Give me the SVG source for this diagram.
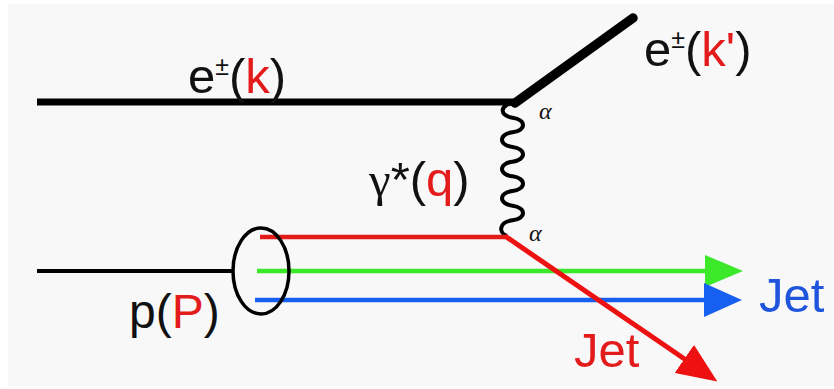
<svg xmlns="http://www.w3.org/2000/svg" width="834" height="389" viewBox="0 0 834 389">
<style>
.lbl{font-family:"Liberation Sans",Arial,sans-serif;font-size:49px;fill:#111}
.red{fill:#e31b1b}
.greek{font-family:"Liberation Serif","Times New Roman",serif}
.alpha{font-family:"Liberation Serif","Times New Roman",serif;font-size:24px;font-style:italic;fill:#111}
.sup{font-size:25px}
</style>
<defs>
<marker id="ahG" markerUnits="userSpaceOnUse" viewBox="0 0 38 32" markerWidth="38" markerHeight="32" refX="2" refY="16" orient="auto"><path d="M0,0 L38,16 L0,32 z" fill="#3be82a"/></marker>
<marker id="ahB" markerUnits="userSpaceOnUse" viewBox="0 0 38 34" markerWidth="38" markerHeight="34" refX="2" refY="17" orient="auto"><path d="M0,0 L38,17 L0,34 z" fill="#1760ef"/></marker>
<marker id="ahR" markerUnits="userSpaceOnUse" viewBox="0 0 40 34" markerWidth="40" markerHeight="34" refX="2" refY="17" orient="auto"><path d="M0,0 L40,17 L0,34 z" fill="#ee1111"/></marker>
</defs>
<rect x="8" y="4" width="826" height="382" fill="#f8f8f8"/>
<g id="connectors" fill="none">
<line id="e-in" x1="37" y1="102" x2="517" y2="102" stroke="#000" stroke-width="7"/>
<line id="e-out" x1="515" y1="103" x2="633" y2="18" stroke="#000" stroke-width="9.5" stroke-linecap="round"/>
<path id="photon" d="M515,103 C499,104 499,116 512.5,117.7 C526.5,119.4 526.5,130.7 512.5,132.3 C498.5,134 498.5,145.3 512.5,147 C526.5,148.7 526.5,160 512.5,161.7 C498.5,163.4 498.5,174.7 512.5,176.3 C526.5,178 526.5,189.3 512.5,191 C498.5,192.7 498.5,204 512.5,205.7 C526.5,207.4 526.5,218.7 512.5,220.3 C498.5,222 498.5,233 507,236" stroke="#000" stroke-width="4"/>
<line id="p-in" x1="37" y1="271" x2="232" y2="271" stroke="#000" stroke-width="4"/>
<line id="quark" x1="260" y1="237" x2="506" y2="237" stroke="#e31b1b" stroke-width="4.5"/>
<line id="green-jet" x1="257" y1="271" x2="707" y2="271" stroke="#3be82a" stroke-width="4.5" marker-end="url(#ahG)"/>
<line id="blue-jet" x1="255" y1="300" x2="706" y2="300" stroke="#1760ef" stroke-width="4.5" marker-end="url(#ahB)"/>
<line id="red-jet" x1="505" y1="236" x2="686" y2="360" stroke="#ee1111" stroke-width="5" marker-end="url(#ahR)"/>
</g>
<g id="proton">
<ellipse cx="261" cy="271" rx="28" ry="43" fill="none" stroke="#000" stroke-width="3.5"/>
<text class="lbl" x="129" y="328" style="font-size:48px">p(<tspan class="red">P</tspan>)</text>
</g>
<g id="electron-in"><text class="lbl" x="188" y="93">e<tspan class="sup" dy="-18">±</tspan><tspan dy="18">(</tspan><tspan class="red">k</tspan>)</text></g>
<g id="electron-out"><text class="lbl" x="644" y="66">e<tspan class="sup" dy="-18">±</tspan><tspan dy="18">(</tspan><tspan class="red">k'</tspan>)</text></g>
<g id="photon-label"><text class="lbl" x="369" y="196"><tspan class="greek">γ</tspan>*(<tspan class="red">q</tspan>)</text></g>
<g id="vertex-top"><text class="alpha" x="539" y="119">α</text></g>
<g id="vertex-bottom"><text class="alpha" x="529" y="241">α</text></g>
<g id="jet-blue"><text class="lbl" x="759" y="312" style="fill:#1f55dd">Jet</text></g>
<g id="jet-red"><text class="lbl" x="574" y="367" style="fill:#e31b1b">Jet</text></g>
</svg>
